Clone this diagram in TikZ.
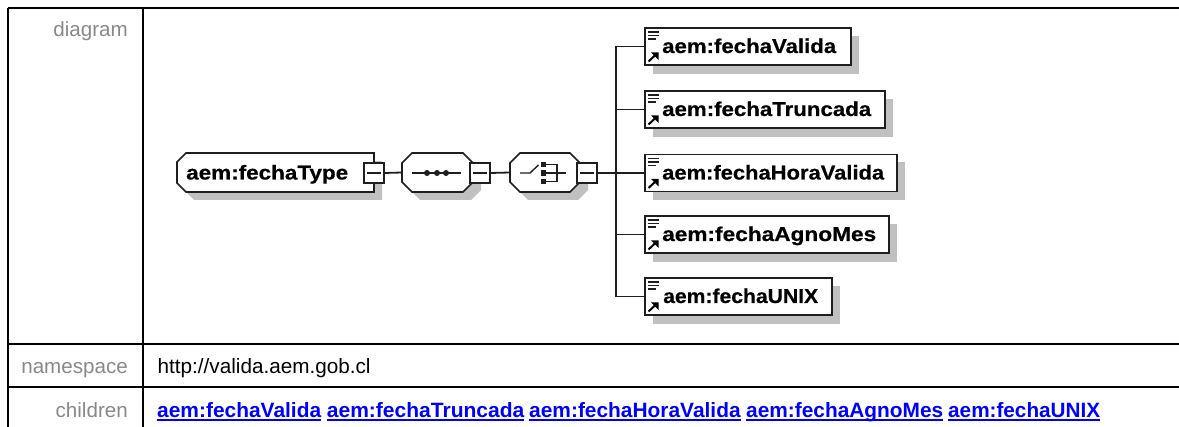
\documentclass[tikz,border=0pt]{standalone}
\usepackage{fontspec}
\setmainfont{Liberation Sans}
\newfontfamily\diagfont{Liberation Sans}[BoldFeatures={FakeBold=0.5}]
\usetikzlibrary{calc}
\definecolor{shadowgrey}{HTML}{C0C0C0}
\definecolor{lineink}{HTML}{1E1E1E}
\definecolor{labelgrey}{HTML}{888888}
\definecolor{linkblue}{HTML}{0000FF}
\newlength{\lnkwd}
\newcommand{\lnk}[1]{\settowidth{\lnkwd}{#1}\rlap{\rule[-3.8pt]{\lnkwd}{2.3pt}}#1}
\newcommand{\fitw}[2]{\resizebox{#1pt}{\height}{#2}}
% chamfered outlines: #1 node, #2 #3 offset
\newcommand{\rootpath}[3]{($(#1.north west)+(9pt+#2,0pt+#3)$) -- ($(#1.north east)+(#2,#3)$) -- ($(#1.south east)+(#2,#3)$) -- ($(#1.south west)+(9pt+#2,0pt+#3)$) -- ($(#1.south west)+(0pt+#2,9pt+#3)$) -- ($(#1.north west)+(0pt+#2,-9pt+#3)$) -- cycle}
\newcommand{\octpath}[3]{($(#1.north west)+(10pt+#2,0pt+#3)$) -- ($(#1.north east)+(-10pt+#2,0pt+#3)$) -- ($(#1.north east)+(0pt+#2,-10pt+#3)$) -- ($(#1.south east)+(0pt+#2,10pt+#3)$) -- ($(#1.south east)+(-10pt+#2,0pt+#3)$) -- ($(#1.south west)+(10pt+#2,0pt+#3)$) -- ($(#1.south west)+(0pt+#2,10pt+#3)$) -- ($(#1.north west)+(0pt+#2,-10pt+#3)$) -- cycle}
\tikzset{
  tablerule/.style={line width=2pt,black},
  wire/.style={line width=1.8pt,lineink},
  thinwire/.style={line width=1.4pt,lineink},
  outline/.style={draw=lineink,line width=1.6pt,fill=white},
  elbox/.style={draw=lineink,line width=1.6pt,fill=white,minimum height=37pt,anchor=north west,inner sep=0pt,outer sep=0pt},
  eltext/.style={anchor=base west,inner sep=0pt,font=\fontsize{20}{22}\selectfont\diagfont\bfseries,text=black},
  groupshape/.style={rectangle,minimum height=39pt,inner sep=0pt,outer sep=0pt},
  collapsebox/.style={rectangle,draw=lineink,line width=1.6pt,fill=white,minimum width=20pt,minimum height=20pt,inner sep=0pt,outer sep=0pt},
  rowlabel/.style={anchor=base east,inner sep=0pt,font=\fontsize{20.6}{24}\selectfont,text=labelgrey},
  rowtext/.style={anchor=base west,inner sep=0pt,font=\fontsize{20.7}{24}\selectfont,text=black},
  linktext/.style={anchor=base west,inner sep=0pt,font=\fontsize{20.7}{24}\selectfont\bfseries,text=linkblue},
  dot/.style={circle,fill=lineink,inner sep=0pt,minimum size=6pt}
}
\begin{document}
\begin{tikzpicture}[x=1pt,y=-1pt]
\useasboundingbox (0,0) rectangle (1179,427);
% table
\coordinate (tl) at (8,8);
\coordinate (tr) at (1179,8);
\coordinate (bl) at (8,427);
\coordinate (dt) at (142.5,8);
\coordinate (db) at (142.5,427);
\coordinate (r1l) at (8,344);
\coordinate (r1r) at (1179,344);
\coordinate (r2l) at (8,387.5);
\coordinate (r2r) at (1179,387.5);
\draw[tablerule] (tl) -- (tr);
\draw[tablerule] (tl) -- (bl);
\draw[tablerule] (dt) -- (db);
\draw[tablerule] (r1l) -- (r1r);
\draw[tablerule] (r2l) -- (r2r);
\node[rowlabel] (ldiagram) at (128,37) {diagram};
\node[rowlabel] (lns) at (128,374) {namespace};
\node[rowlabel] (lch) at (128,417.5) {children};
\node[rowtext] (tns) at (157.5,374) {http://valida.aem.gob.cl};
\node[linktext] (k1) at (157,417.5) {\lnk{\fitw{164}{aem:fechaValida}}};
\node[linktext] (k2) at (326.7,417.5) {\lnk{\fitw{197.5}{aem:fechaTruncada}}};
\node[linktext] (k3) at (529,417.5) {\lnk{\fitw{211.5}{aem:fechaHoraValida}}};
\node[linktext] (k4) at (746,417.5) {\lnk{\fitw{197}{aem:fechaAgnoMes}}};
\node[linktext] (k5) at (948,417.5) {\lnk{\fitw{152}{aem:fechaUNIX}}};
% connector junction
\coordinate (bus) at (616,173);
% root
\node[groupshape,minimum width=197pt] (root) at (275.5,172.5) {};
\fill[shadowgrey] \rootpath{root}{8pt}{-8pt};
\draw[outline] \rootpath{root}{0pt}{0pt};
\node[eltext] (roottext) at (186,179.5) {\fitw{162}{aem:fechaType}};
\node[collapsebox] (c1) at (374,173) {};
% sequence
\node[groupshape,minimum width=71pt] (seq) at (437.5,172.5) {};
\fill[shadowgrey] \octpath{seq}{8pt}{-8pt};
\draw[outline] \octpath{seq}{0pt}{0pt};
\node[collapsebox] (c2) at (480,173) {};
\node[dot] (sd1) at (427,173) {};
\node[dot] (sd2) at (437,173) {};
\node[dot] (sd3) at (446,173) {};
\draw[thinwire] ([xshift=-15pt]sd1.center) -- (sd3.center) -- ([xshift=15pt]sd3.center);
% choice
\node[groupshape,minimum width=70pt] (cho) at (545,172.5) {};
\fill[shadowgrey] \octpath{cho}{8pt}{-8pt};
\draw[outline] \octpath{cho}{0pt}{0pt};
\node[collapsebox] (c3) at (587,173) {};
\node[rectangle,fill=lineink,inner sep=0pt,minimum size=5.5pt] (cd1) at (543.5,164.5) {};
\node[rectangle,fill=lineink,inner sep=0pt,minimum size=5.5pt] (cd2) at (543.5,173) {};
\node[rectangle,fill=lineink,inner sep=0pt,minimum size=5.5pt] (cd3) at (543.5,181.5) {};
\coordinate (cs0) at (520,173);
\coordinate (cs1) at (530,173);
\coordinate (cs2) at (538.5,165);
\coordinate (cb) at (557,173);
\coordinate (co) at (566,173);
\draw[thinwire] (cs0) -- (cs1) -- (cs2);
\draw[thinwire] (cd1.east) -| (cb);
\draw[thinwire] (cd3.east) -| (cb);
\draw[thinwire] (cd2.east) -- (cb) -- (co);
% collapse marks
\foreach \c in {c1,c2,c3}{
  \draw[thinwire] ([xshift=3pt]\c.west) -- ([xshift=-3pt]\c.east);
}
% elements
\foreach \n/\x/\y/\w in {e1/645/28/206,e2/645/91/240,e3/645/154.5/252,e4/645/216/244,e5/645/278/187}{
  \fill[shadowgrey] (\x+8,\y+8) rectangle (\x+\w+8,\y+46);
  \node[elbox,minimum width=\w pt] (\n) at (\x,\y) {};
}
\node[eltext] (t1) at (662,53) {\fitw{174}{aem:fechaValida}};
\node[eltext] (t2) at (662,116) {\fitw{209}{aem:fechaTruncada}};
\node[eltext] (t3) at (662,179.5) {\fitw{222}{aem:fechaHoraValida}};
\node[eltext] (t4) at (662,241) {\fitw{214}{aem:fechaAgnoMes}};
\node[eltext] (t5) at (663,303) {\fitw{155}{aem:fechaUNIX}};
\foreach \e in {e1,e2,e3,e4,e5}{
  \draw[line width=1.1pt,lineink] ([shift={(3pt,-4pt)}]\e.north west) -- ++(11pt,0pt);
  \draw[line width=1.1pt,lineink] ([shift={(3pt,-7.5pt)}]\e.north west) -- ++(11pt,0pt);
  \draw[line width=1.1pt,lineink] ([shift={(3pt,-11pt)}]\e.north west) -- ++(8pt,0pt);
  \draw[line width=2pt,black] ([shift={(3.5pt,-33.5pt)}]\e.north west) -- ([shift={(11pt,-26.5pt)}]\e.north west);
  \fill[black] ([shift={(13.5pt,-24.5pt)}]\e.north west) -- ++(-7.5pt,0pt) -- ++(7.5pt,-7.5pt) -- cycle;
}
% wires
\draw[wire] (c1.east) -- (seq.west);
\draw[wire] (c2.east) -- (cho.west);
\draw[wire] (c3.east) -- (bus);
\draw[wire] (e1.west) -| (bus);
\draw[wire] (e2.west) -| (bus);
\draw[wire] (e3.west) -- (bus);
\draw[wire] (e4.west) -| (bus);
\draw[wire] (e5.west) -| (bus);
\end{tikzpicture}
\end{document}
